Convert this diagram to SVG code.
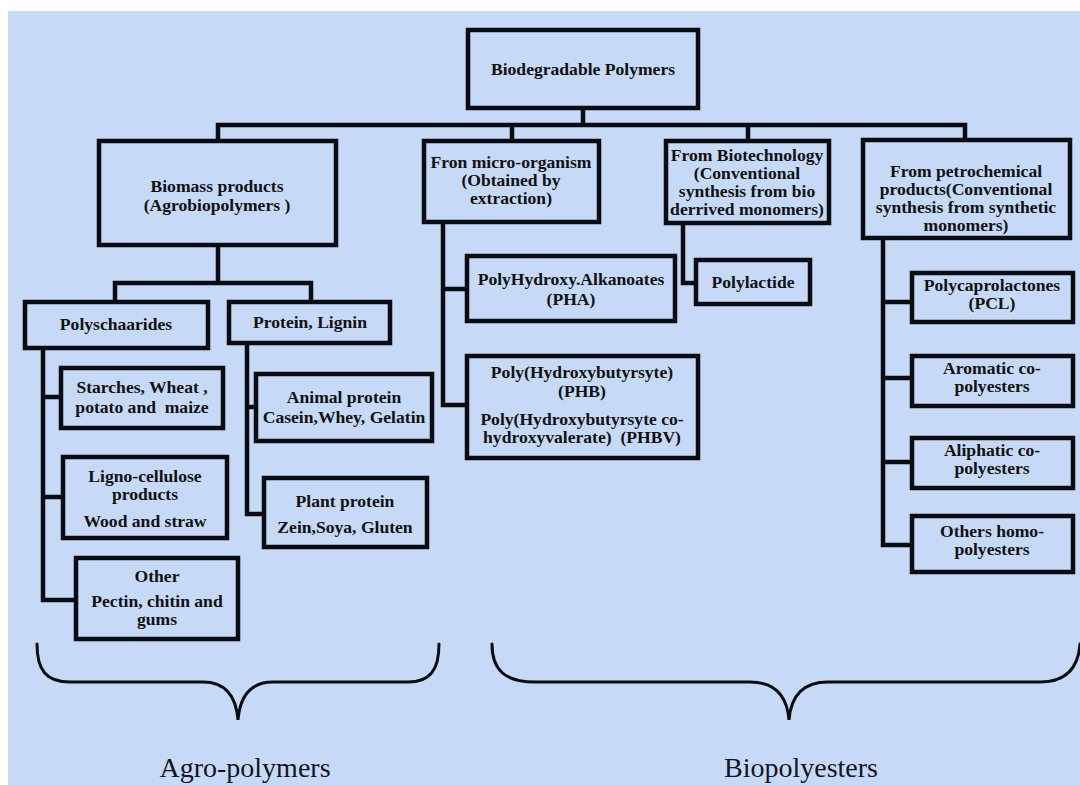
<svg xmlns="http://www.w3.org/2000/svg" width="1080" height="785" viewBox="0 0 1080 785">
<style>
.bx{fill:#c6daf8;stroke:#0b0b12;stroke-width:4.5}
.ln{fill:none;stroke:#0b0b12;stroke-width:4.5;stroke-linejoin:miter;stroke-linecap:square}
.br{fill:none;stroke:#0b0b12;stroke-width:3;stroke-linecap:round}
.t{font-family:"Liberation Serif","Times New Roman",serif;font-weight:bold;font-size:16px;fill:#111;text-anchor:middle}
.lb{font-family:"Liberation Serif","Times New Roman",serif;font-size:28px;fill:#141420;text-anchor:middle}
</style>
<rect x="0" y="0" width="1080" height="785" fill="#ffffff"/>
<rect x="8" y="11" width="1072" height="774" fill="#c6daf8"/>

<g id="connectors">
<path class="ln" d="M583,108 V125 M218,125 H965 M218,125 V141 M512,125 V141 M748,125 V141 M965,125 V140"/>
<path class="ln" d="M218,245 V283 M115,283 H311 M115,283 V302 M311,283 V302"/>
<path class="ln" d="M43,348 V600 M43,397 H61 M43,497 H63 M43,600 H76"/>
<path class="ln" d="M247,343 V514 M247,407 H256 M247,514 H264"/>
<path class="ln" d="M443,222 V405 M443,289 H467 M443,405 H467"/>
<path class="ln" d="M683,223 V283 H696"/>
<path class="ln" d="M883,238 V545 M883,302 H912 M883,378 H912 M883,462 H912 M883,545 H912"/>
</g>

<g id="n-root"><rect class="bx" x="468" y="30" width="230" height="78"/>
<g transform="translate(583 0) scale(1.1 1)"><text class="t" x="0" y="75">Biodegradable Polymers</text></g></g>

<g id="n-biomass"><rect class="bx" x="99" y="141" width="237" height="104"/>
<g transform="translate(217 0) scale(1.1 1)"><text class="t" x="0" y="192">Biomass products</text><text class="t" x="0" y="211">(Agrobiopolymers )</text></g></g>

<g id="n-micro"><rect class="bx" x="424" y="141" width="175" height="81"/>
<g transform="translate(511 0) scale(1.1 1)"><text class="t" x="0" y="168">Fron micro-organism</text><text class="t" x="0" y="186">(Obtained by</text><text class="t" x="0" y="204">extraction)</text></g></g>

<g id="n-biotech"><rect class="bx" x="666" y="141" width="163" height="82"/>
<g transform="translate(747 0) scale(1.1 1)"><text class="t" x="0" y="161">From Biotechnology</text><text class="t" x="0" y="179">(Conventional</text><text class="t" x="0" y="197">synthesis from bio</text><text class="t" x="0" y="215">derrived monomers)</text></g></g>

<g id="n-petro"><rect class="bx" x="863" y="140" width="207" height="98"/>
<g transform="translate(966 0) scale(1.1 1)"><text class="t" x="0" y="177">From petrochemical</text><text class="t" x="0" y="195">products(Conventional</text><text class="t" x="0" y="213">synthesis from synthetic</text><text class="t" x="0" y="231">monomers)</text></g></g>

<g id="n-polys"><rect class="bx" x="25" y="302" width="183" height="46"/>
<g transform="translate(116 0) scale(1.1 1)"><text class="t" x="0" y="330">Polyschaarides</text></g></g>

<g id="n-protein"><rect class="bx" x="229" y="302" width="161" height="41"/>
<g transform="translate(310 0) scale(1.1 1)"><text class="t" x="0" y="328">Protein, Lignin</text></g></g>

<g id="n-starch"><rect class="bx" x="61" y="368" width="162" height="60"/>
<g transform="translate(142 0) scale(1.1 1)"><text class="t" x="0" y="393">Starches, Wheat ,</text><text class="t" x="0" y="413" xml:space="preserve">potato and  maize</text></g></g>

<g id="n-ligno"><rect class="bx" x="63" y="457" width="164" height="81"/>
<g transform="translate(145 0) scale(1.1 1)"><text class="t" x="0" y="482">Ligno-cellulose</text><text class="t" x="0" y="500">products</text><text class="t" x="0" y="527">Wood and straw</text></g></g>

<g id="n-other"><rect class="bx" x="76" y="558" width="162" height="81"/>
<g transform="translate(157 0) scale(1.1 1)"><text class="t" x="0" y="582">Other</text><text class="t" x="0" y="607">Pectin, chitin and</text><text class="t" x="0" y="625">gums</text></g></g>

<g id="n-animal"><rect class="bx" x="256" y="374" width="176" height="67"/>
<g transform="translate(344 0) scale(1.1 1)"><text class="t" x="0" y="403">Animal protein</text><text class="t" x="0" y="423">Casein,Whey, Gelatin</text></g></g>

<g id="n-plant"><rect class="bx" x="264" y="478" width="163" height="69"/>
<g transform="translate(345 0) scale(1.1 1)"><text class="t" x="0" y="507">Plant protein</text><text class="t" x="0" y="533">Zein,Soya, Gluten</text></g></g>

<g id="n-pha"><rect class="bx" x="467" y="256" width="208" height="65"/>
<g transform="translate(571 0) scale(1.1 1)"><text class="t" x="0" y="285">PolyHydroxy.Alkanoates</text><text class="t" x="0" y="305">(PHA)</text></g></g>

<g id="n-phb"><rect class="bx" x="467" y="356" width="231" height="102"/>
<g transform="translate(582 0) scale(1.1 1)"><text class="t" x="0" y="378">Poly(Hydroxybutyrsyte)</text><text class="t" x="0" y="397">(PHB)</text><text class="t" x="0" y="425">Poly(Hydroxybutyrsyte co-</text><text class="t" x="0" y="443" xml:space="preserve">hydroxyvalerate)  (PHBV)</text></g></g>

<g id="n-pla"><rect class="bx" x="696" y="260" width="114" height="44"/>
<g transform="translate(753 0) scale(1.1 1)"><text class="t" x="0" y="288">Polylactide</text></g></g>

<g id="n-pcl"><rect class="bx" x="912" y="273" width="161" height="49"/>
<g transform="translate(992 0) scale(1.1 1)"><text class="t" x="0" y="291">Polycaprolactones</text><text class="t" x="0" y="309">(PCL)</text></g></g>

<g id="n-arom"><rect class="bx" x="912" y="356" width="161" height="50"/>
<g transform="translate(992 0) scale(1.1 1)"><text class="t" x="0" y="374">Aromatic co-</text><text class="t" x="0" y="392">polyesters</text></g></g>

<g id="n-aliph"><rect class="bx" x="912" y="438" width="161" height="50"/>
<g transform="translate(992 0) scale(1.1 1)"><text class="t" x="0" y="456">Aliphatic co-</text><text class="t" x="0" y="474">polyesters</text></g></g>

<g id="n-others"><rect class="bx" x="912" y="516" width="161" height="56"/>
<g transform="translate(992 0) scale(1.1 1)"><text class="t" x="0" y="537">Others homo-</text><text class="t" x="0" y="555">polyesters</text></g></g>

<g id="braces">
<path class="br" d="M37,644 C37,670 46,682 70,682 L203,682 C224,682 236,695 238,720 C240,695 252,682 273,682 L408,682 C430,682 439,670 439,644"/>
<path class="br" d="M492,644 C492,670 505,682 535,682 L750,682 C774,682 787,695 789,720 C791,695 804,682 828,682 L1040,682 C1064,682 1078,670 1080,644"/>
</g>
<text class="lb" x="245" y="777">Agro-polymers</text>
<text class="lb" x="801" y="777">Biopolyesters</text>
</svg>
